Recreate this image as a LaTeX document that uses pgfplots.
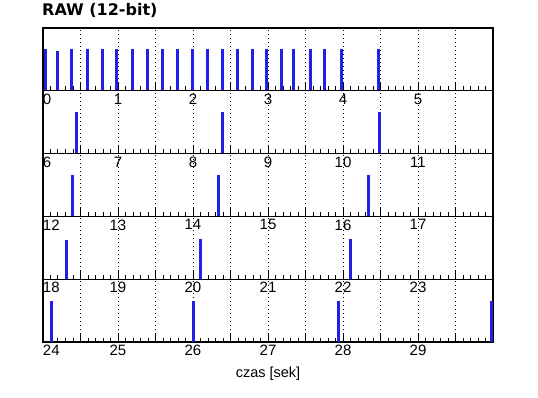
\documentclass[border=0pt]{standalone}
\usepackage{fontspec}
\setmainfont{Liberation Sans}
\newfontfamily\titlefont{DejaVu Sans}
\usepackage{pgfplots}
\pgfplotsset{compat=1.18}
\definecolor{spike}{RGB}{32,32,232}
\pgfplotsset{
  panel/.style={
    scale only axis, width=450pt, height=62.8pt,
    anchor=north west,
    ymin=0, ymax=1.52, ytick=\empty,
    minor x tick num=4,
    xtick pos=left, tick align=inside,
    major tick length=8pt, minor tick length=4.5pt,
    xmajorgrids,
    major grid style={black, line width=0.8pt, dash pattern=on 1pt off 3pt},
    axis line style={black, line width=1.1pt},
    every tick/.style={black, line width=1pt},
    ticklabel style={font=\fontsize{15}{17}\selectfont, inner sep=3pt},
    clip=true,
  },
  spikes/.style={ycomb, color=spike, line width=3pt, mark=none},
}
\begin{document}
\begin{tikzpicture}
\useasboundingbox (-43pt,28pt) rectangle (495pt,-370pt);
% panel 1: 0-6 s
\begin{axis}[panel, at={(0pt,0pt)},
  xmin=0, xmax=6, xtick={0,0.5,...,6},
  xticklabels={\makebox[0pt][l]{0},{},1,{},2,{},3,{},4,{},5,{},{}},
  title={RAW (12-bit)},
  title style={at={(0,1)}, anchor=base west, inner sep=0pt, xshift=-1pt, yshift=6pt,
    font=\titlefont\bfseries\fontsize{16}{19}\selectfont}]
\addplot[spikes] coordinates {
 (0.03,1) (0.20,0.97) (0.38,1) (0.59,1) (0.79,1) (0.98,1) (1.19,1) (1.39,1)
 (1.59,1) (1.79,1) (1.99,1) (2.19,1) (2.39,1) (2.59,1) (2.79,1) (2.98,1)
 (3.18,1) (3.34,1) (3.57,1) (3.75,1) (3.98,1) (4.47,1)};
\end{axis}
% panel 2: 6-12 s
\begin{axis}[panel, at={(0pt,-62.8pt)},
  xmin=6, xmax=12, xtick={6,6.5,...,12},
  xticklabels={\makebox[0pt][l]{6},{},7,{},8,{},9,{},10,{},11,{},{}}]
\addplot[spikes] coordinates {(6.45,1) (8.39,1) (10.49,1)};
\end{axis}
% panel 3: 12-18 s
\begin{axis}[panel, at={(0pt,-125.6pt)},
  xmin=12, xmax=18, xtick={12,12.5,...,18},
  xticklabels={\makebox[0pt][l]{12},{},13,{},14,{},15,{},16,{},17,{},{}}]
\addplot[spikes] coordinates {(12.39,1) (14.34,1) (16.34,1)};
\end{axis}
% panel 4: 18-24 s
\begin{axis}[panel, at={(0pt,-188.4pt)},
  xmin=18, xmax=24, xtick={18,18.5,...,24},
  xticklabels={\makebox[0pt][l]{18},{},19,{},20,{},21,{},22,{},23,{},{}}]
\addplot[spikes] coordinates {(18.32,0.95) (20.10,0.97) (22.10,0.98)};
\end{axis}
% panel 5: 24-30 s
\begin{axis}[panel, at={(0pt,-251.2pt)},
  xmin=24, xmax=30, xtick={24,24.5,...,30},
  xticklabels={\makebox[0pt][l]{24},{},25,{},26,{},27,{},28,{},29,{},{}},
  xlabel={czas [sek]},
  xlabel style={at={(axis description cs:0.5,0)}, anchor=center, yshift=-32pt,
    font=\fontsize{14.5}{16}\selectfont}]
\addplot[spikes] coordinates {(24.12,1) (26.00,1) (27.94,1) (29.98,1)};
\end{axis}
\end{tikzpicture}
\end{document}
